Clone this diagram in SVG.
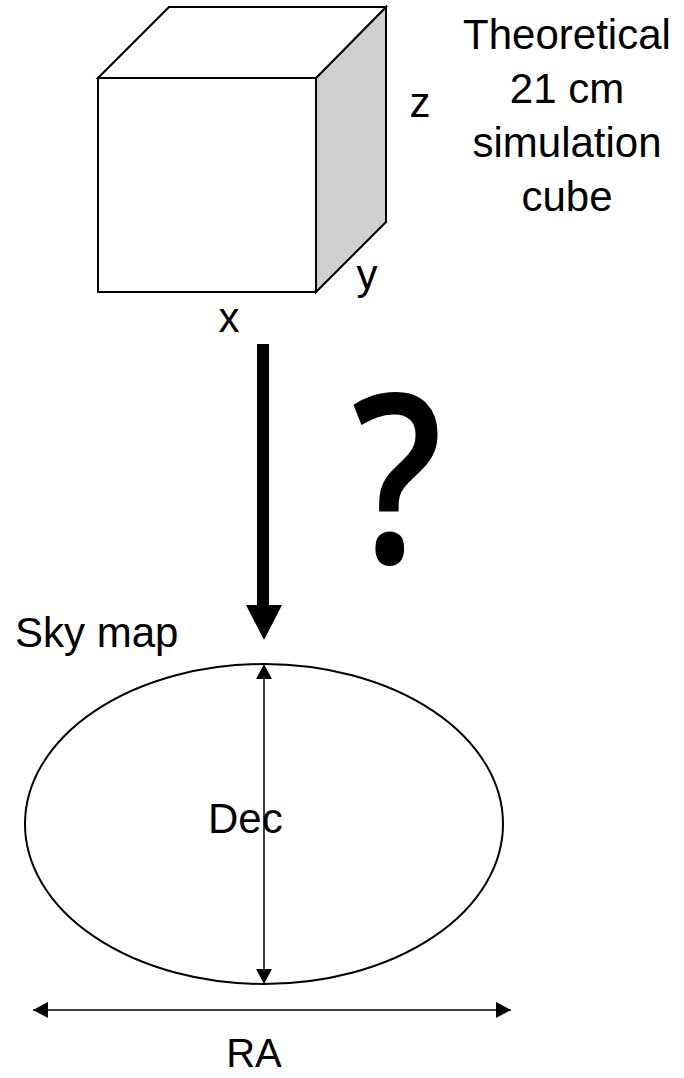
<svg xmlns="http://www.w3.org/2000/svg" width="684" height="1078" viewBox="0 0 684 1078">
<style>
.t{font-family:"Liberation Sans",Arial,sans-serif;font-size:42px;fill:#000}
.c{text-anchor:middle}
.edge{fill:none;stroke:#000;stroke-width:2;stroke-linejoin:miter}
.thin{stroke:#000;stroke-width:1.5;fill:none}
</style>
<defs>
<marker id="ah" markerWidth="15" markerHeight="16" refX="15" refY="8" orient="auto-start-reverse" markerUnits="userSpaceOnUse" viewBox="0 0 15 16">
<path d="M0,0 L15,8 L0,16 Z" fill="#000"/>
</marker>
</defs>
<rect width="684" height="1078" fill="#fff"/>
<g id="cube">
<polygon points="316,78 386,7 386,222 316,292" fill="#d0d0d0" stroke="#000" stroke-width="2"/>
<polygon points="98,78 169,7 386,7 316,78" fill="#fff" stroke="#000" stroke-width="2"/>
<rect x="98" y="78" width="218" height="214" fill="#fff" stroke="#000" stroke-width="2"/>
<text class="t c" x="229" y="332">x</text>
<text class="t c" x="367" y="289">y</text>
<text class="t c" x="420" y="117">z</text>
</g>
<g id="cube-label">
<text class="t c" x="567" y="49">Theoretical</text>
<text class="t c" x="567" y="103">21 cm</text>
<text class="t c" x="567" y="157">simulation</text>
<text class="t c" x="567" y="211">cube</text>
</g>
<g id="question">
<text x="397" y="563" transform="translate(397 0) scale(0.85 1) translate(-397 0)" style="font-family:'Open Sans','Liberation Sans',sans-serif;font-weight:600;font-size:236px;text-anchor:middle">?</text>
</g>
<g id="connectors">
<rect x="257" y="344" width="12" height="262" fill="#000"/>
<polygon points="246,605 282,605 264,640" fill="#000"/>
</g>
<g id="skymap">
<text class="t" x="15" y="647">Sky map</text>
<ellipse cx="264" cy="824" rx="239" ry="160" class="edge"/>
<line x1="264" y1="664" x2="264" y2="984" class="thin" marker-start="url(#ah)" marker-end="url(#ah)"/>
<text class="t" x="208" y="833">Dec</text>
<line x1="33" y1="1010" x2="511" y2="1010" class="thin" marker-start="url(#ah)" marker-end="url(#ah)"/>
<text class="t c" x="254" y="1067" style="font-size:40px">RA</text>
</g>
</svg>
